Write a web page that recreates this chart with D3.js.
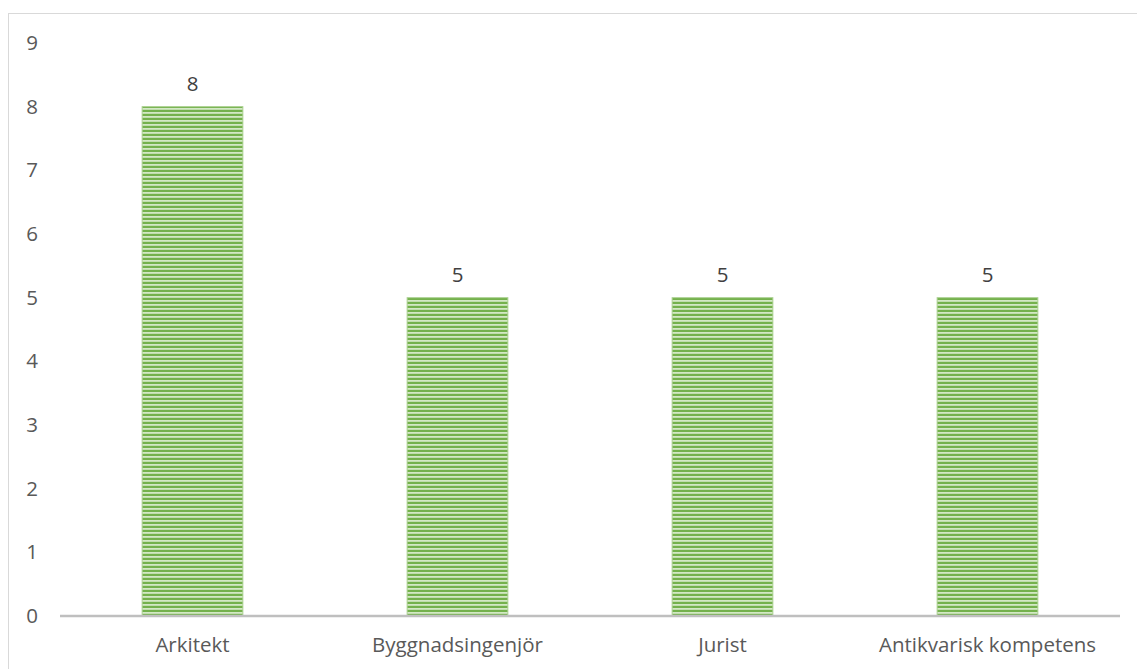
<!DOCTYPE html>
<html><head><meta charset="utf-8">
<script src="https://cdn.jsdelivr.net/npm/d3@7"></script>
<style>body{margin:0;background:#fff;} text{font-family:"Open Sans","Liberation Sans",sans-serif;}</style>
</head><body>
<svg id="c" width="1137" height="669"></svg>
<script>
const categories = ["Arkitekt", "Byggnadsingenjör", "Jurist", "Antikvarisk kompetens"];
const values = [8, 5, 5, 5];
const yTicks = [0,1,2,3,4,5,6,7,8,9];

const svg = d3.select("#c");
const W = 1137, H = 669;
const m = {left: 60, right: 17, top: 43, bottom: 53};
const FS = 20.5;

svg.append("rect").attr("x", 8.5).attr("y", 13.5).attr("width", W + 10).attr("height", H + 10)
  .attr("fill", "none").attr("stroke", "#d9d9d9").attr("stroke-width", 1);

const defs = svg.append("defs");
const pat = defs.append("pattern").attr("id", "stripes").attr("patternUnits", "userSpaceOnUse")
  .attr("width", 8).attr("height", 4);
pat.append("rect").attr("width", 8).attr("height", 4).attr("fill", "#74b14c");
pat.append("rect").attr("y", 0).attr("width", 8).attr("height", 1.8).attr("fill", "#d3e8c5");

const x = d3.scaleBand().domain(categories).range([m.left, W - m.right]).paddingInner(0.62).paddingOuter(0.31);
const y = d3.scaleLinear().domain([0, 9]).range([H - m.bottom, m.top]);

// y labels
const yAxis = d3.axisLeft(y).tickValues(yTicks).tickSize(0).tickPadding(0).tickFormat(d3.format("d"));
const gy = svg.append("g").attr("transform", `translate(32,0)`).call(yAxis);
gy.select(".domain").remove();
gy.selectAll("text").attr("font-size", FS).attr("fill", "#595959").attr("text-anchor", "middle")
  .attr("font-family", "'Open Sans','Liberation Sans',sans-serif");

// bars
svg.append("g").selectAll("rect").data(values).join("rect")
  .attr("x", (d, i) => x(categories[i]))
  .attr("y", d => y(d))
  .attr("width", x.bandwidth())
  .attr("height", d => y(0) - y(d))
  .attr("fill", "url(#stripes)")
  .attr("stroke", "#a9d08e").attr("stroke-width", 1);

// x axis
const xAxis = d3.axisBottom(x).tickSize(0).tickPadding(21);
const gx = svg.append("g").attr("transform", `translate(0,${y(0)})`).call(xAxis);
gx.select(".domain").attr("stroke", "#bfbfbf").attr("stroke-width", 2.5)
  .attr("d", `M${m.left},0H${W - m.right}`);
gx.selectAll("text").attr("font-size", FS).attr("fill", "#595959")
  .attr("font-family", "'Open Sans','Liberation Sans',sans-serif");

// value labels
svg.append("g").selectAll("text").data(values).join("text")
  .attr("x", (d, i) => x(categories[i]) + x.bandwidth() / 2)
  .attr("y", d => y(d) - 16)
  .attr("text-anchor", "middle").attr("font-size", FS).attr("fill", "#404040")
  .text(d => d);
</script>
</body></html>
